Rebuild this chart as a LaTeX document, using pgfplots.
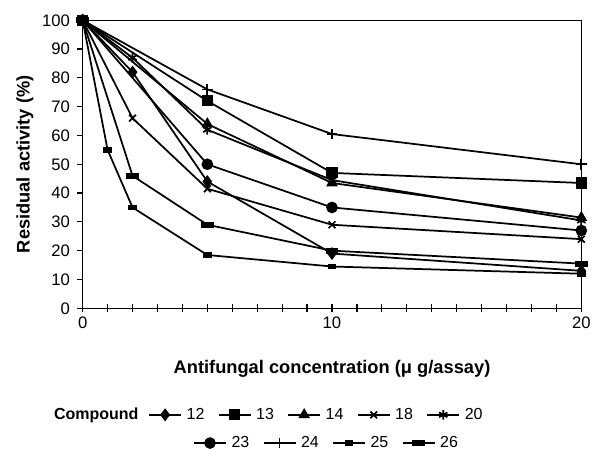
\documentclass[border=0pt]{standalone}
\usepackage{fontspec}
\setmainfont{Liberation Sans}
\usepackage{pgfplots}
\pgfplotsset{compat=1.18}

\pgfplotsset{
  antileg/.style={
    legend image code/.code={\draw[mark repeat=2,mark phase=2,##1] plot coordinates {(0pt,0pt)(12pt,0pt)(24pt,0pt)};},
    legend style={draw=none, fill=none, inner sep=0pt, anchor=west,
      font=\fontsize{12}{14}\selectfont,
      nodes={inner xsep=3.5pt, inner ysep=1pt},
      /tikz/every even column/.append style={column sep=6.5pt}},
  },
  ser/.style={black, line width=1.3pt, mark options={solid}},
}

\begin{document}
\begin{tikzpicture}
\begin{axis}[
  antileg,
  scale only axis, width=374pt, height=216pt,
  xmin=0, xmax=20, ymin=0, ymax=100,
  xtick={0,10,20}, minor x tick num=9,
  ytick={0,10,...,100},
  tick pos=left,
  xtick align=center, ytick align=outside,
  major tick length=6pt, minor tick length=6pt,
  y tick style={/pgfplots/major tick length=4pt},
  tick style={black, line width=0.9pt},
  axis line style={line width=1.1pt},
  /pgf/number format/assume math mode=true,
  ticklabel style={font=\fontsize{12.5}{14}\selectfont},
  xlabel={Antifungal concentration (μ g/assay)},
  ylabel={Residual activity (\%)},
  label style={font=\fontsize{13.7}{16}\selectfont\bfseries},
  xlabel style={at={(axis description cs:0.5,-0.21)}, anchor=center},
  ylabel style={at={(axis description cs:-0.1158,0.5)}, anchor=center},
  legend columns=5,
  legend style={at={(axis description cs:0.131,-0.370)}},
]
\addplot[ser, mark=diamond*, mark size=3.8pt] coordinates {(0,100) (2,82) (5,44) (10,19) (20,13)};
\addlegendentry{12}
\addplot[ser, mark=square*, mark size=3.5pt] coordinates {(0,100) (5,72) (10,47) (20,43.5)};
\addlegendentry{13}
\addplot[ser, mark=triangle*, mark size=3.8pt] coordinates {(0,100) (5,64) (10,43.5) (20,31.5)};
\addlegendentry{14}
\addplot[ser, mark=x, mark size=3.6pt] coordinates {(0,100) (2,66) (5,41.5) (10,29) (20,24)};
\addlegendentry{18}
\addplot[ser, mark=asterisk, mark size=3.6pt] coordinates {(0,100) (2,87) (5,62) (10,44.5) (20,30.5)};
\addlegendentry{20}
\addplot[ser, mark=*, mark size=3.7pt, forget plot] coordinates {(0,100) (5,50) (10,35) (20,27)};
\addplot[ser, mark=+, mark size=4pt, forget plot] coordinates {(0,100) (5,76) (10,60.5) (20,50)};
\addplot[ser, mark=square*, mark size=1.5pt, mark options={xscale=1.75}, forget plot] coordinates {(0,100) (1,55) (2,35) (5,18.5) (10,14.5) (20,12)};
\addplot[ser, mark=square*, mark size=1.5pt, mark options={xscale=2.7}, forget plot] coordinates {(0,100) (2,46) (5,29) (10,20) (20,15.5)};
\end{axis}

\begin{axis}[
  antileg,
  scale only axis, width=374pt, height=216pt,
  xmin=0, xmax=20, ymin=0, ymax=100,
  hide axis,
  legend columns=4,
  legend style={at={(axis description cs:0.221,-0.468)}},
]
\addlegendimage{ser, mark=*, mark size=3.7pt}
\addlegendentry{23}
\addlegendimage{ser, mark=+, mark size=4pt}
\addlegendentry{24}
\addlegendimage{ser, mark=square*, mark size=1.5pt, mark options={xscale=1.75}}
\addlegendentry{25}
\addlegendimage{ser, mark=square*, mark size=1.5pt, mark options={xscale=2.7}}
\addlegendentry{26}
\end{axis}

\node[anchor=west, font=\fontsize{12}{14}\selectfont\bfseries] at (-25pt,-80pt) {Compound};

\pgfresetboundingbox
\path (-62pt,-107pt) rectangle (382pt,231.2pt);
\end{tikzpicture}
\end{document}
